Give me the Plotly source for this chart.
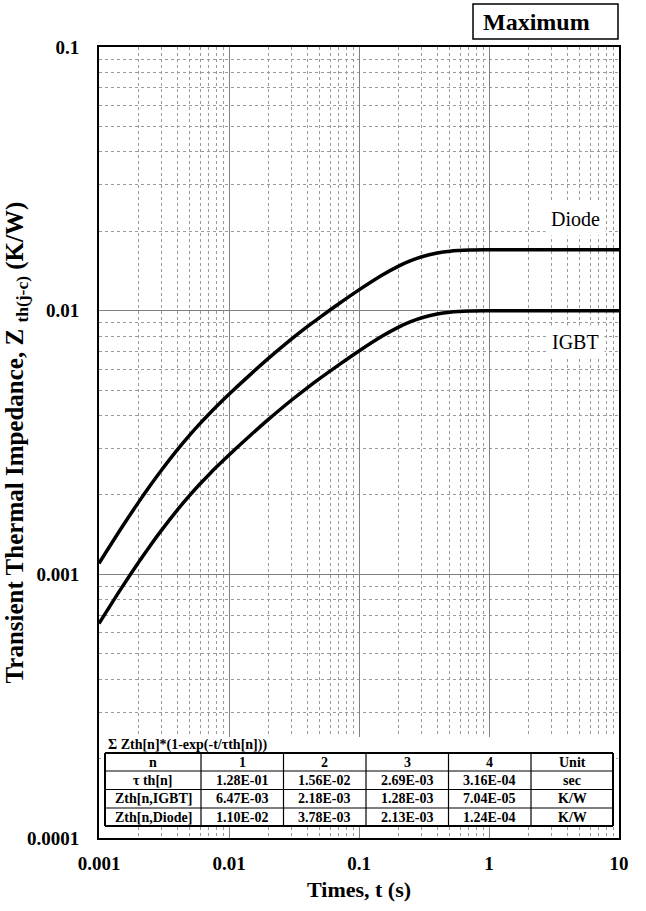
import plotly.graph_objects as go

# Foster network parameters listed in the table
n_labels = ["1", "2", "3", "4"]
tau_th = [1.28e-01, 1.56e-02, 2.69e-03, 3.16e-04]
zth_igbt = [6.47e-03, 2.18e-03, 1.28e-03, 7.04e-05]
zth_diode = [1.10e-02, 3.78e-03, 2.13e-03, 1.24e-04]

# Transient thermal impedance curves (time in s, Zth in K/W)
t_s = [0.001, 0.0015, 0.002, 0.0025, 0.003, 0.004, 0.005, 0.006, 0.007, 0.008,
       0.01, 0.015, 0.02, 0.03, 0.04, 0.05, 0.07, 0.1, 0.15, 0.2, 0.25, 0.3,
       0.4, 0.5, 0.7, 1, 2, 5, 10]
z_igbt = [6.506e-4, 8.922e-4, 1.1043e-3, 1.2930e-3, 1.4620e-3, 1.7532e-3,
          1.9965e-3, 2.2052e-3, 2.3880e-3, 2.5516e-3, 2.8372e-3, 3.4076e-3,
          3.8607e-3, 4.5635e-3, 5.0990e-3, 5.5342e-3, 6.2314e-3, 7.0346e-3,
          7.9955e-3, 8.6442e-3, 9.0828e-3, 9.3795e-3, 9.7161e-3, 9.8703e-3,
          9.9731e-3, 9.9978e-3, 1.00004e-2, 1.00004e-2, 1.00004e-2]
z_diode = [1.1004e-3, 1.5081e-3, 1.8665e-3, 2.1855e-3, 2.4718e-3, 2.9659e-3,
           3.3799e-3, 3.7357e-3, 4.0481e-3, 4.3281e-3, 4.8178e-3, 5.7972e-3,
           6.5751e-3, 7.7797e-3, 8.6952e-3, 9.4378e-3, 1.06253e-2, 1.19916e-2,
           1.36261e-2, 1.47283e-2, 1.54739e-2, 1.59784e-2, 1.65507e-2,
           1.68128e-2, 1.69876e-2, 1.70295e-2, 1.7034e-2, 1.7034e-2, 1.7034e-2]

x_ticks = [0.001, 0.01, 0.1, 1, 10]
x_ticktext = ["0.001", "0.01", "0.1", "1", "10"]
y_ticks = [0.0001, 0.001, 0.01, 0.1]
y_ticktext = ["0.0001", "0.001", "0.01", "0.1"]

SERIF = "Liberation Serif, Times New Roman, serif"
W, H = 646, 911
L, R, T, B = 99, 27, 47, 73
PW, PH = W - L - R, H - T - B


def px(x):
    return (x - L) / PW


def py(y):
    return (H - B - y) / PH


def minor_vals(lo, hi):
    vals = []
    for e in range(lo, hi):
        for m in range(2, 10):
            vals.append(round(m * 10 ** e, 10))
    return vals


fig = go.Figure()
fig.add_trace(go.Scatter(x=t_s, y=z_diode, mode="lines", name="Diode",
                         line=dict(color="black", width=3.5, shape="spline"),
                         showlegend=False))
fig.add_trace(go.Scatter(x=t_s, y=z_igbt, mode="lines", name="IGBT",
                         line=dict(color="black", width=3.5, shape="spline"),
                         showlegend=False))

axis_common = dict(
    type="log", showline=True, mirror=True, linecolor="black", linewidth=2,
    ticks="", showgrid=True, gridcolor="#808080", gridwidth=1.2,
    tickfont=dict(family=SERIF, size=19, color="black", weight="bold"),
    zeroline=False,
)
fig.update_xaxes(**axis_common, range=[-3, 1], tickmode="array",
                 tickvals=x_ticks, ticktext=x_ticktext, ticklabelstandoff=7,
                 minor=dict(tickmode="array", tickvals=minor_vals(-3, 1),
                            showgrid=True, gridcolor="#9a9a9a",
                            griddash="dot", gridwidth=1))
fig.update_yaxes(**axis_common, range=[-4, -1], tickmode="array",
                 tickvals=y_ticks, ticktext=y_ticktext, ticklabelstandoff=14,
                 minor=dict(tickmode="array", tickvals=minor_vals(-4, -1),
                            showgrid=True, gridcolor="#9a9a9a",
                            griddash="dot", gridwidth=1))

shapes = []
annotations = []

# "Maximum" box
shapes.append(dict(type="rect", xref="paper", yref="paper",
                   x0=px(473), x1=px(618), y0=py(39), y1=py(4),
                   line=dict(color="black", width=1.5), fillcolor="white"))
annotations.append(dict(text="Maximum", xref="paper", yref="paper",
                        x=px(536), y=py(22), showarrow=False,
                        xanchor="center", yanchor="middle",
                        font=dict(family=SERIF, size=24, color="black", weight="bold")))

# curve labels
for label, yc in (("Diode", 219), ("IGBT", 342)):
    annotations.append(dict(text=label, xref="paper", yref="paper",
                            x=px(575), y=py(yc), showarrow=False,
                            xanchor="center", yanchor="middle",
                            bgcolor="white", borderpad=5,
                            font=dict(family=SERIF, size=20, color="black")))

# parameter table
tbl_x = [105, 201, 283.5, 366, 448.5, 531, 613]
tbl_y = [753, 771, 789.5, 808, 826]
shapes.append(dict(type="rect", xref="paper", yref="paper", layer="above",
                   x0=px(101), x1=px(616), y0=py(826), y1=py(737),
                   line=dict(width=0), fillcolor="white"))
annotations.append(dict(text="Σ Zth[n]*(1-exp(-t/τth[n]))", xref="paper", yref="paper",
                        x=px(106), y=py(745), showarrow=False,
                        xanchor="left", yanchor="middle",
                        font=dict(family=SERIF, size=14, color="black", weight="bold")))
for xv in tbl_x:
    w = 2 if xv in (tbl_x[0], tbl_x[-1]) else 1.2
    shapes.append(dict(type="line", xref="paper", yref="paper", layer="above",
                       x0=px(xv), x1=px(xv), y0=py(tbl_y[0]), y1=py(tbl_y[-1]),
                       line=dict(color="black", width=w)))
for yv in tbl_y:
    w = 2 if yv in (tbl_y[0], tbl_y[-1]) else 1.2
    shapes.append(dict(type="line", xref="paper", yref="paper", layer="above",
                       x0=px(tbl_x[0]), x1=px(tbl_x[-1]), y0=py(yv), y1=py(yv),
                       line=dict(color="black", width=w)))

rows = [
    ["n"] + n_labels + ["Unit"],
    ["τ th[n]"] + ["{:.2E}".format(v) for v in tau_th] + ["sec"],
    ["Zth[n,IGBT]"] + ["{:.2E}".format(v) for v in zth_igbt] + ["K/W"],
    ["Zth[n,Diode]"] + ["{:.2E}".format(v) for v in zth_diode] + ["K/W"],
]
for ri, row in enumerate(rows):
    yc = (tbl_y[ri] + tbl_y[ri + 1]) / 2
    for ci, cell in enumerate(row):
        xc = (tbl_x[ci] + tbl_x[ci + 1]) / 2
        annotations.append(dict(text=cell, xref="paper", yref="paper",
                                x=px(xc), y=py(yc), showarrow=False,
                                xanchor="center", yanchor="middle",
                                font=dict(family=SERIF, size=14, color="black",
                                          weight="bold")))

# axis titles
annotations.append(dict(text="Times, t (s)", xref="paper", yref="paper",
                        x=0.5, y=py(890), showarrow=False,
                        xanchor="center", yanchor="middle",
                        font=dict(family=SERIF, size=22, color="black", weight="bold")))
annotations.append(dict(text="Transient Thermal Impedance, Z <sub>th(j-c)</sub> (K/W)",
                        xref="paper", yref="paper", x=px(16), y=0.5,
                        showarrow=False, textangle=-90,
                        xanchor="center", yanchor="middle",
                        font=dict(family=SERIF, size=25, color="black", weight="bold")))

fig.update_layout(
    width=W, height=H,
    margin=dict(l=L, r=R, t=T, b=B),
    paper_bgcolor="white", plot_bgcolor="white",
    shapes=shapes, annotations=annotations,
    showlegend=False,
)

fig.write_html("out.html")
